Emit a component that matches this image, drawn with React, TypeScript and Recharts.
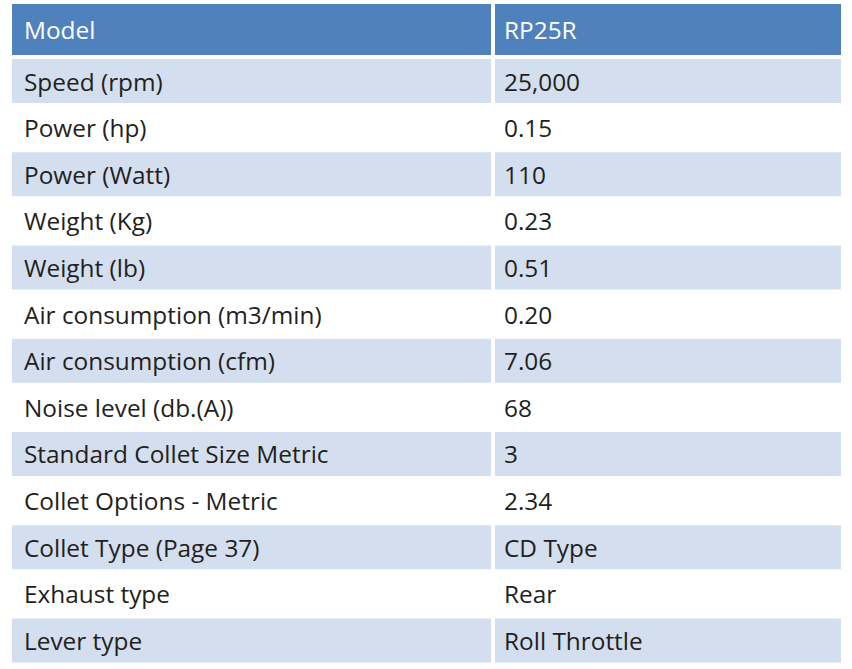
import React from 'react';
import { BarChart, Bar, XAxis, YAxis, Cell, LabelList } from 'recharts';

const HEADER_LABEL = 'Model';
const HEADER_VALUE = 'RP25R';

const ROW_LABELS = [
  'Speed (rpm)',
  'Power (hp)',
  'Power (Watt)',
  'Weight (Kg)',
  'Weight (lb)',
  'Air consumption (m3/min)',
  'Air consumption (cfm)',
  'Noise level (db.(A))',
  'Standard Collet Size Metric',
  'Collet Options - Metric',
  'Collet Type (Page 37)',
  'Exhaust type',
  'Lever type',
];

const ROW_VALUES = [
  '25,000',
  '0.15',
  '110',
  '0.23',
  '0.51',
  '0.20',
  '7.06',
  '68',
  '3',
  '2.34',
  'CD Type',
  'Rear',
  'Roll Throttle',
];

// column widths in px, the x domain equals the plot width so units are pixels
const LEFT_COL = 479;
const COL_GAP = 4;
const RIGHT_COL = 346;
const TOTAL = LEFT_COL + COL_GAP + RIGHT_COL;

const HEADER_BG = '#4F81BD';
const STRIPE_BG = '#D3DEEF';
const PLAIN_BG = '#FFFFFF';
const TEXT_DARK = '#231F20';
const FONT = '"Open Sans", "Noto Sans", sans-serif';
const FONT_SIZE = 24.4;

const headerData = [{ label: HEADER_LABEL, value: HEADER_VALUE, left: LEFT_COL, gap: COL_GAP, right: RIGHT_COL }];
const bodyData = ROW_LABELS.map((label, i) => ({
  label,
  value: ROW_VALUES[i],
  left: LEFT_COL,
  gap: COL_GAP,
  right: RIGHT_COL,
}));

const cellText = (pad: number, color: string) => (props: any) => {
  const { x, y, height, value } = props;
  if (value == null) return null;
  return (
    <text
      x={Number(x) + pad}
      y={Number(y) + Number(height) / 2}
      dominantBaseline="central"
      fill={color}
      fontFamily={FONT}
      fontSize={FONT_SIZE}
    >
      {value}
    </text>
  );
};

function TableChart({
  data,
  height,
  margin,
  gap,
  header,
}: {
  data: any[];
  height: number;
  margin: { top: number; right: number; bottom: number; left: number };
  gap: number;
  header?: boolean;
}) {
  const fillFor = (i: number) => (header ? HEADER_BG : i % 2 === 0 ? STRIPE_BG : PLAIN_BG);
  const textColor = header ? '#FFFFFF' : TEXT_DARK;
  return (
    <BarChart width={852} height={height} data={data} layout="vertical" margin={margin} barCategoryGap={gap}>
      <XAxis type="number" domain={[0, TOTAL]} hide />
      <YAxis type="category" dataKey="label" hide width={0} />
      <Bar dataKey="left" stackId="row" isAnimationActive={false}>
        {data.map((_, i) => (
          <Cell key={`l-${i}`} fill={fillFor(i)} />
        ))}
        <LabelList dataKey="label" content={cellText(12, textColor)} />
      </Bar>
      <Bar dataKey="gap" stackId="row" fill="transparent" isAnimationActive={false} />
      <Bar dataKey="right" stackId="row" isAnimationActive={false}>
        {data.map((_, i) => (
          <Cell key={`r-${i}`} fill={fillFor(i)} />
        ))}
        <LabelList dataKey="value" content={cellText(9, textColor)} />
      </Bar>
    </BarChart>
  );
}

export default function App() {
  return (
    <div style={{ position: 'relative', width: 852, height: 669, background: '#fff', overflow: 'hidden' }}>
      <style>{'body{margin:0}'}</style>
      <div style={{ position: 'absolute', left: 0, top: 0 }}>
        <TableChart data={headerData} height={55} margin={{ top: 4, right: 11, bottom: 0, left: 12 }} gap={0} header />
      </div>
      <div style={{ position: 'absolute', left: 0, top: 53 }}>
        <TableChart data={bodyData} height={616} margin={{ top: 4.5, right: 11, bottom: 5.5, left: 12 }} gap={1.5} />
      </div>
    </div>
  );
}
